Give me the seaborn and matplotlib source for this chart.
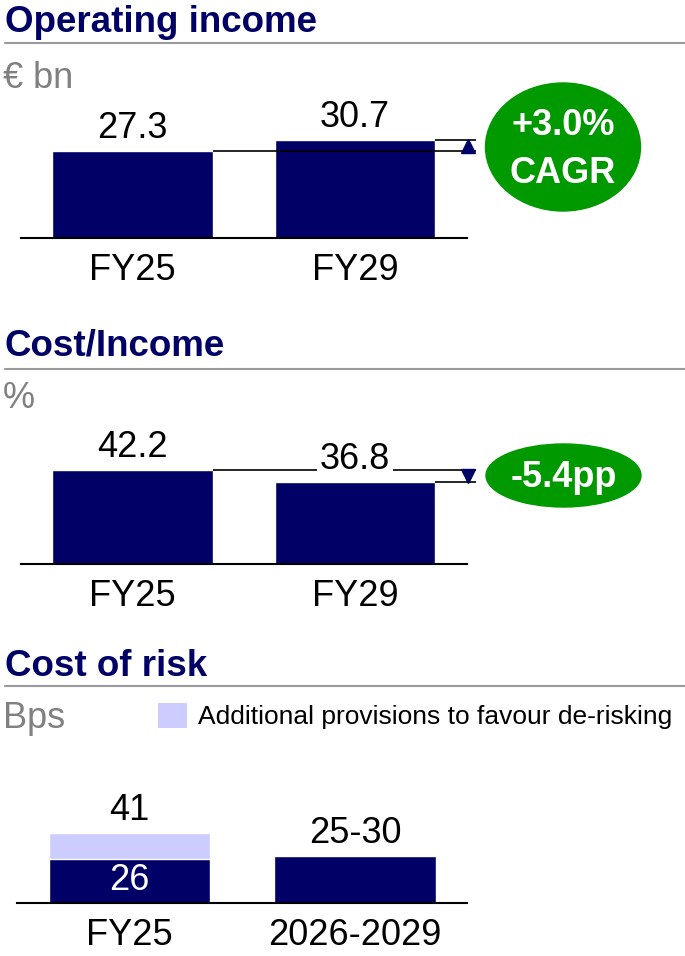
import matplotlib
matplotlib.use('Agg')
import matplotlib.pyplot as plt
import seaborn as sns
from matplotlib.patches import Ellipse, Patch
from matplotlib.lines import Line2D

# chart values
years = ["FY25", "FY29"]
op_income = [27.3, 30.7]          # EUR bn
cost_income = [42.2, 36.8]        # %
cor_categories = ["FY25", "2026-2029"]
cor_underlying = [26, 27.5]       # bps, 2026-2029 drawn at middle of the 25-30 guidance
cor_additional = [15, 0]          # additional provisions to favour de-risking
cor_labels = ["41", "25-30"]
n_years = 4                       # FY25 -> FY29

NAVY = '#000066'
LIGHT = '#CCCCFF'
GREEN = '#009900'
GREY_RULE = '#9a9a9a'
GREY_UNIT = '#808080'

W, H = 685, 956


def fx(px):
    return px / W


def fy(py):
    return 1 - py / H


sns.set_style('white')
plt.rcParams['font.family'] = ['Liberation Sans', 'DejaVu Sans']
plt.rcParams['text.color'] = 'black'
plt.rcParams['xtick.color'] = 'black'
plt.rcParams['xtick.labelcolor'] = 'black'

fig = plt.figure(figsize=(W / 100, H / 100), dpi=100)


def section_header(title, title_y, rule_y, unit, unit_y):
    fig.text(fx(5), fy(title_y), title, fontsize=26.5, fontweight='bold',
             color=NAVY, ha='left', va='baseline')
    fig.add_artist(Line2D([fx(5), 1], [fy(rule_y)] * 2, color=GREY_RULE, lw=1.5))
    fig.text(fx(3), fy(unit_y), unit, fontsize=26, color=GREY_UNIT,
             ha='left', va='baseline')


def bar_axes(left, right, top, base, c0, c1):
    # axes box given in pixels, c0/c1 = pixel centres of the two bars
    ax = fig.add_axes([fx(left), fy(base), (right - left) / W, (base - top) / H])
    s = c1 - c0
    return ax, ((left - c0) / s, (right - c0) / s), s


def style(ax, xlim, ymax):
    ax.set_xlim(*xlim)
    ax.set_ylim(0, ymax)
    sns.despine(ax=ax, left=True)
    ax.spines['bottom'].set_color('black')
    ax.spines['bottom'].set_linewidth(1.5)
    ax.set_yticks([])
    ax.set_xlabel('')
    ax.set_ylabel('')
    ax.tick_params(axis='x', length=0, pad=11, labelsize=26, labelcolor='black')
    ax.patch.set_alpha(0)


def value_label(ax, x, y, text, **kw):
    ax.annotate(text, (x, y), xytext=(0, 9.5), textcoords='offset points',
                ha='center', va='baseline', fontsize=26, color='black', zorder=5, **kw)


# ---------------- Operating income ----------------
section_header("Operating income", 32, 43, "€ bn", 88)
ax1, xl1, s1 = bar_axes(21, 467, 90, 238, 132.5, 355)
sns.barplot(x=years, y=op_income, color=NAVY, saturation=1, width=0.72, ax=ax1)
style(ax1, xl1, 46.4)
for i, v in enumerate(op_income):
    value_label(ax1, i, v, f"{v:.1f}")
x_end = (476 - 132.5) / s1
x_tri = (468 - 132.5) / s1
ax1.hlines(op_income[0], 0.36, x_end, color='black', lw=1.2, clip_on=False, zorder=3)
ax1.hlines(op_income[1], 1.36, x_end, color='black', lw=1.2, clip_on=False, zorder=3)
ax1.plot(x_tri, sum(op_income) / 2, marker='^', ms=10, color=NAVY, clip_on=False, zorder=4)

cagr = (op_income[1] / op_income[0]) ** (1 / n_years) - 1
fig.add_artist(Ellipse((fx(563), fy(147)), 155 / W, 128 / H,
                       transform=fig.transFigure, color=GREEN))
fig.text(fx(563), fy(135), f"{cagr * 100:+.1f}%", fontsize=26, fontweight='bold',
         color='white', ha='center', va='baseline')
fig.text(fx(563), fy(183), "CAGR", fontsize=26, fontweight='bold',
         color='white', ha='center', va='baseline')

# ---------------- Cost/Income ----------------
section_header("Cost/Income", 356, 369, "%", 408)
ax2, xl2, s2 = bar_axes(21, 467, 410, 564, 132.5, 355)
sns.barplot(x=years, y=cost_income, color=NAVY, saturation=1, width=0.72, ax=ax2)
style(ax2, xl2, 69.1)
value_label(ax2, 0, cost_income[0], f"{cost_income[0]:.1f}")
value_label(ax2, 1, cost_income[1], f"{cost_income[1]:.1f}",
            bbox=dict(facecolor='white', edgecolor='none', pad=2))
ax2.hlines(cost_income[0], 0.36, x_end, color='black', lw=1.2, clip_on=False, zorder=3)
ax2.hlines(cost_income[1], 1.36, x_end, color='black', lw=1.2, clip_on=False, zorder=3)
ax2.plot(x_tri, sum(cost_income) / 2, marker='v', ms=10, color=NAVY, clip_on=False, zorder=4)

delta_pp = cost_income[1] - cost_income[0]
fig.add_artist(Ellipse((fx(563.5), fy(475.5)), 155 / W, 63 / H,
                       transform=fig.transFigure, color=GREEN))
fig.text(fx(564), fy(487), f"{delta_pp:.1f}pp", fontsize=26, fontweight='bold',
         color='white', ha='center', va='baseline')

# ---------------- Cost of risk ----------------
section_header("Cost of risk", 676, 686, "Bps", 728)
ax3, xl3, s3 = bar_axes(17, 467, 760, 903, 129.5, 355)
cor_total = [u + a for u, a in zip(cor_underlying, cor_additional)]
sns.barplot(x=cor_categories, y=cor_total, color=LIGHT, saturation=1, width=0.714, ax=ax3)
sns.barplot(x=cor_categories, y=cor_underlying, color=NAVY, saturation=1, width=0.714, ax=ax3)
style(ax3, xl3, 83.8)
for i, (v, lab) in enumerate(zip(cor_total, cor_labels)):
    value_label(ax3, i, v, lab)
ax3.text(0, cor_underlying[0] / 2, f"{cor_underlying[0]}", color='white', fontsize=26,
         ha='center', va='center', zorder=5)

ax3.legend(handles=[Patch(facecolor=LIGHT, edgecolor='none',
                          label="Additional provisions to favour de-risking")],
           loc='center left', bbox_to_anchor=(fx(158), fy(716)),
           bbox_transform=fig.transFigure, frameon=False, fontsize=19,
           handlelength=1.1, handleheight=1.1, handletextpad=0.4,
           borderpad=0, borderaxespad=0, labelcolor='black')

fig.savefig('out.png', dpi=100)
plt.close(fig)
